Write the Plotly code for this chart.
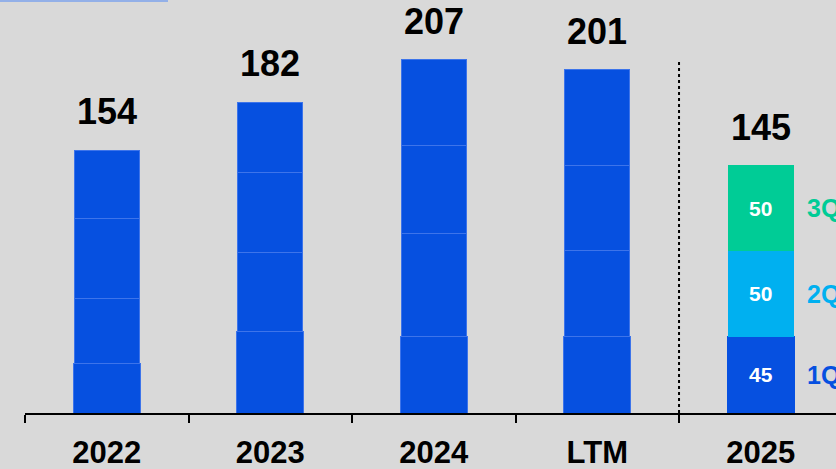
import plotly.graph_objects as go

categories = ["2022", "2023", "2024", "LTM", "2025"]
seg1 = [29, 48, 45, 45, 45]
seg2 = [38, 46, 60, 50, 50]
seg3 = [47, 47, 52, 50, 50]
seg4 = [40, 41, 50, 56, None]
totals = [154, 182, 207, 201, 145]
quarter_labels = ["1Q", "2Q", "3Q"]

BLUE = "#0650E0"
CYAN = "#00B0F0"
GREEN = "#00CC96"
EDGE = "#3D74EA"
FONT = "Liberation Sans, Arial, sans-serif"

fig = go.Figure()

def seg_trace(vals, colors, edges, width, texts):
    return go.Bar(
        x=categories, y=vals, width=width,
        marker=dict(color=colors, line=dict(color=edges, width=1)),
        text=texts, textposition="inside", insidetextanchor="middle",
        textangle=0,
        textfont=dict(family=FONT, size=21, color="white", weight="bold"),
        showlegend=False, hoverinfo="skip",
    )

n = len(categories)
last = n - 1
fig.add_trace(seg_trace(seg1, [BLUE] * n, [EDGE] * last + [BLUE], 0.412,
                        [""] * last + [str(seg1[last])]))
fig.add_trace(seg_trace(seg2, [BLUE] * last + [CYAN], [EDGE] * last + [CYAN], 0.40,
                        [""] * last + [str(seg2[last])]))
fig.add_trace(seg_trace(seg3, [BLUE] * last + [GREEN], [EDGE] * last + [GREEN], 0.40,
                        [""] * last + [str(seg3[last])]))
fig.add_trace(seg_trace(seg4, [BLUE] * n, [EDGE] * n, 0.40, [""] * n))

annotations = []
for i, t in enumerate(totals):
    annotations.append(dict(
        x=i, y=t, xref="x", yref="y", text=str(t), showarrow=False,
        yanchor="bottom", yshift=16,
        font=dict(family=FONT, size=36, color="black", weight="bold"),
    ))

# quarter labels beside the 2025 bar
q_vals = [seg1[last], seg2[last], seg3[last]]
q_colors = [BLUE, CYAN, GREEN]
base = 0
for lab, v, col in zip(quarter_labels, q_vals, q_colors):
    annotations.append(dict(
        x=last, y=base + v / 2, xref="x", yref="y", text=lab,
        showarrow=False, xanchor="left", yanchor="middle", xshift=44,
        font=dict(family=FONT, size=25, color=col, weight="bold"),
    ))
    base += v

fig.update_layout(
    width=836, height=469,
    margin=dict(l=25, r=0, t=0, b=56),
    paper_bgcolor="#D9D9D9", plot_bgcolor="#D9D9D9",
    barmode="stack", bargap=0.6,
    annotations=annotations,
    shapes=[
        dict(type="line", xref="x", yref="paper", x0=3.5, x1=3.5, y0=0, y1=0.855,
             line=dict(color="black", width=2, dash="dot")),
        dict(type="line", xref="paper", yref="paper",
             x0=-25 / 811, x1=(168 - 25) / 811, y0=1 - 1 / 413, y1=1 - 1 / 413,
             line=dict(color="#93B0E8", width=2)),
    ],
    xaxis=dict(
        range=[-0.5, 4.46], showline=True, linecolor="black", linewidth=2,
        ticks="outside", ticklen=8, tickwidth=2, tickcolor="black",
        tickson="boundaries", showgrid=False, zeroline=False,
        ticklabelstandoff=11,
        tickfont=dict(family=FONT, size=31, color="black", weight="bold"),
        fixedrange=True,
    ),
    yaxis=dict(range=[0, 242], visible=False, showgrid=False, fixedrange=True),
)

fig.write_html(
    "out.html",
    config={"displayModeBar": False},
    post_script="document.body.style.margin='0';document.body.style.background='#D9D9D9';",
)
